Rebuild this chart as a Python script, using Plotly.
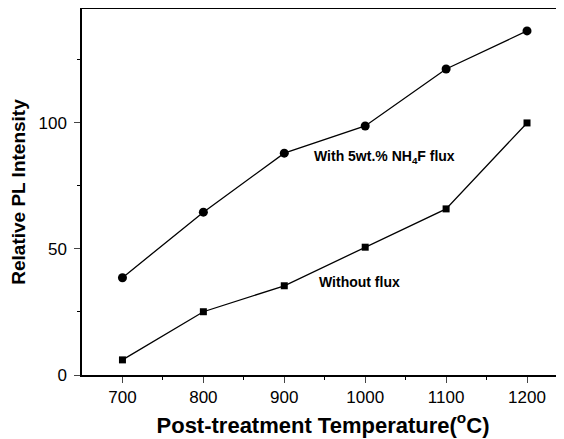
import plotly.graph_objects as go

temps = [700, 800, 900, 1000, 1100, 1200]
with_flux = [38.6, 64.6, 88.0, 98.8, 121.4, 136.5]
without_flux = [6.0, 25.1, 35.4, 50.7, 65.9, 100.0]

x_ticks = [700, 800, 900, 1000, 1100, 1200]
y_ticks = [0, 50, 100]

FONT = "Arial, Liberation Sans, sans-serif"

fig = go.Figure()
fig.add_trace(go.Scatter(
    x=temps, y=with_flux, mode="lines+markers",
    line=dict(color="black", width=1.3),
    marker=dict(symbol="circle", size=9, color="black"),
    showlegend=False,
))
fig.add_trace(go.Scatter(
    x=temps, y=without_flux, mode="lines+markers",
    line=dict(color="black", width=1.3),
    marker=dict(symbol="square", size=7, color="black"),
    showlegend=False,
))

fig.add_annotation(x=934, y=86.5, text="<b>With 5wt.% NH<sub>4</sub>F flux</b>",
                   showarrow=False, xanchor="left", yanchor="middle",
                   font=dict(family=FONT, size=14, color="black"))
fig.add_annotation(x=941, y=36.9, text="<b>Without flux</b>",
                   showarrow=False, xanchor="left", yanchor="middle",
                   font=dict(family=FONT, size=14, color="black"))

# page body adds an 8px offset; size the figure to fill the rest of the window
fig.update_layout(
    width=556, height=431,
    margin=dict(l=74, r=0, t=1, b=64),
    plot_bgcolor="white", paper_bgcolor="white",
    font=dict(family=FONT, color="black"),
)
fig.update_xaxes(
    range=[650, 1245.7], tickvals=x_ticks, ticks="outside", ticklen=6, tickwidth=1.2,
    showline=True, linecolor="black", linewidth=1.5, mirror=True,
    showgrid=False, zeroline=False, automargin=False,
    tickfont=dict(size=17),
    minor=dict(tickvals=[750, 850, 950, 1050, 1150], ticks="outside", ticklen=3, tickcolor="black"),
    title=dict(text="<b>Post-treatment Temperature(<sup>o</sup>C)</b>", font=dict(size=22), standoff=11),
)
fig.update_yaxes(
    range=[0, 145.2], tickvals=y_ticks, ticks="outside", ticklen=6, tickwidth=1.2,
    showline=True, linecolor="black", linewidth=1.5, mirror=False,
    showgrid=False, zeroline=False, automargin=False,
    tickfont=dict(size=17), ticklabelstandoff=4,
    minor=dict(tickvals=[25, 75, 125], ticks="outside", ticklen=3, tickcolor="black"),
    title=dict(text="<b>Relative PL Intensity</b>", font=dict(size=19), standoff=12),
)

fig.write_html("out.html")
